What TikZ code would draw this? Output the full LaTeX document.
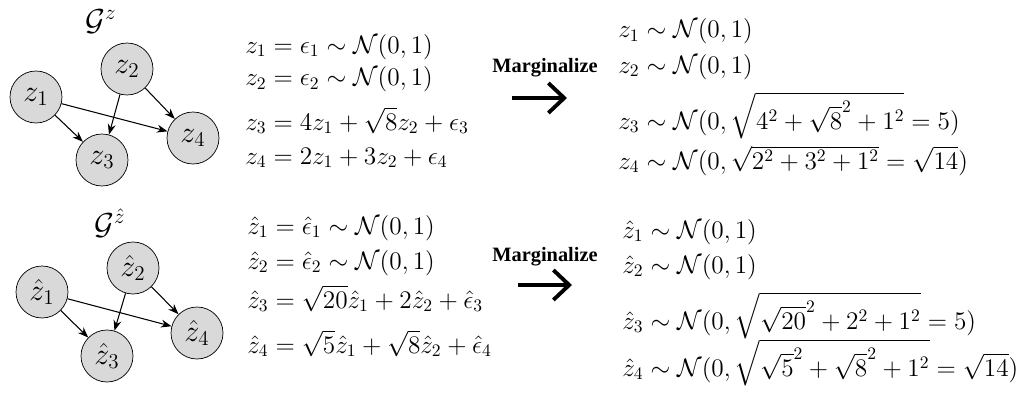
\documentclass[tikz,border=0pt]{standalone}
\usepackage{amsmath}
\usepackage{fontspec}
\newfontfamily\margfont{Liberation Serif}
\usetikzlibrary{arrows.meta}

\tikzset{
  var/.style={circle, draw, fill=gray!30, minimum size=1.04cm, inner sep=0pt,
    font=\fontsize{17}{20}\selectfont},
  glabel/.style={font=\fontsize{17}{20}\selectfont},
  eq/.style={anchor=base west, inner sep=0pt, font=\fontsize{14.5}{17}\selectfont},
  edge/.style={-{Stealth[length=6pt,width=4.5pt]}, semithick},
  marg/.style={inner sep=0pt, font=\margfont\bfseries\fontsize{11.6}{14}\selectfont},
  bigarrow/.style={-{Straight Barb[length=9pt,width=17pt]}, line width=2.2pt}
}

\begin{document}
\begin{tikzpicture}[x=0.02cm, y=-0.02cm]
    \useasboundingbox (0,0) rectangle (1016,395);

    % graph of z
    \node[glabel] (gz) at (101,22) {$\mathcal{G}^{z}$};
    \node[var] (z1) at (36,97) {$z_1$};
    \node[var] (z2) at (127,69) {$z_2$};
    \node[var] (z3) at (102,160) {$z_3$};
    \node[var] (z4) at (193,138) {$z_4$};
    \draw[edge] (z1) -- (z3);
    \draw[edge] (z1) -- (z4);
    \draw[edge] (z2) -- (z3);
    \draw[edge] (z2) -- (z4);

    % graph of z hat
    \node[glabel] (gh) at (110,223) {$\mathcal{G}^{\hat{z}}$};
    \node[var] (h1) at (42,292) {$\hat{z}_1$};
    \node[var] (h2) at (133,268) {$\hat{z}_2$};
    \node[var] (h3) at (107,356) {$\hat{z}_3$};
    \node[var] (h4) at (197,333) {$\hat{z}_4$};
    \draw[edge] (h1) -- (h3);
    \draw[edge] (h1) -- (h4);
    \draw[edge] (h2) -- (h3);
    \draw[edge] (h2) -- (h4);

    % structural equations
    \node[eq] (sz1) at (245,53) {$z_1 = \epsilon_1 \sim \mathcal{N}(0,1)$};
    \node[eq] (sz2) at (245,86) {$z_2 = \epsilon_2 \sim \mathcal{N}(0,1)$};
    \node[eq] (sz3) at (245,130) {$z_3 = 4z_1 + \sqrt{8}z_2 + \epsilon_3$};
    \node[eq] (sz4) at (245,164) {$z_4 = 2z_1 + 3z_2 + \epsilon_4$};

    \node[eq] (sh1) at (247,234) {$\hat{z}_1 = \hat{\epsilon}_1 \sim \mathcal{N}(0,1)$};
    \node[eq] (sh2) at (247,269) {$\hat{z}_2 = \hat{\epsilon}_2 \sim \mathcal{N}(0,1)$};
    \node[eq] (sh3) at (247,308) {$\hat{z}_3 = \sqrt{20}\hat{z}_1 + 2\hat{z}_2 + \hat{\epsilon}_3$};
    \node[eq] (sh4) at (247,353) {$\hat{z}_4 = \sqrt{5}\hat{z}_1 + \sqrt{8}\hat{z}_2 + \hat{\epsilon}_4$};

    % marginalize arrows
    \node[marg] (mz) at (545,68) {Marginalize};
    \coordinate (mza) at (512,98);
    \coordinate (mzb) at (567,98);
    \draw[bigarrow] (mza) -- (mzb);

    \node[marg] (mh) at (545,257) {Marginalize};
    \coordinate (mha) at (518,285);
    \coordinate (mhb) at (572,285);
    \draw[bigarrow] (mha) -- (mhb);

    % marginals
    \node[eq] (mz1) at (618,38) {$z_1 \sim \mathcal{N}(0,1)$};
    \node[eq] (mz2) at (618,73) {$z_2 \sim \mathcal{N}(0,1)$};
    \node[eq] (mz3) at (618,129) {$z_3 \sim \mathcal{N}(0, \sqrt{4^2 + \sqrt{8}^2 + 1^2} = 5)$};
    \node[eq] (mz4) at (618,169) {$z_4 \sim \mathcal{N}(0, \sqrt{2^2 + 3^2 + 1^2} = \sqrt{14})$};

    \node[eq] (mh1) at (622,238) {$\hat{z}_1 \sim \mathcal{N}(0,1)$};
    \node[eq] (mh2) at (622,273) {$\hat{z}_2 \sim \mathcal{N}(0,1)$};
    \node[eq] (mh3) at (622,329) {$\hat{z}_3 \sim \mathcal{N}(0, \sqrt{\sqrt{20}^2 + 2^2 + 1^2} = 5)$};
    \node[eq] (mh4) at (622,376) {$\hat{z}_4 \sim \mathcal{N}(0, \sqrt{\sqrt{5}^2 + \sqrt{8}^2 + 1^2} = \sqrt{14})$};
\end{tikzpicture}
\end{document}
